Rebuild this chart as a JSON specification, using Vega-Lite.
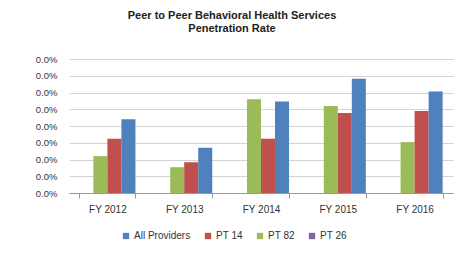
{
  "$schema": "https://vega.github.io/schema/vega-lite/v6.json",
  "autosize": {"type": "none"},
  "padding": {"left": 69, "top": 59, "right": 7, "bottom": 61},
  "width": 384,
  "height": 134,
  "background": "white",
  "title": {
    "text": ["Peer to Peer Behavioral Health Services", "Penetration Rate"],
    "anchor": "middle",
    "frame": "group",
    "dx": -29,
    "offset": 20,
    "fontSize": 11,
    "fontWeight": "bold",
    "font": "Liberation Sans",
    "color": "#222222",
    "lineHeight": 13
  },
  "data": {
    "values": [
      {"year": "FY 2012", "series": "PT 26", "rate": 0},
      {"year": "FY 2012", "series": "PT 82", "rate": 0.000022},
      {"year": "FY 2012", "series": "PT 14", "rate": 0.0000324},
      {"year": "FY 2012", "series": "All Providers", "rate": 0.000044},
      {"year": "FY 2013", "series": "PT 26", "rate": 0},
      {"year": "FY 2013", "series": "PT 82", "rate": 0.0000154},
      {"year": "FY 2013", "series": "PT 14", "rate": 0.0000184},
      {"year": "FY 2013", "series": "All Providers", "rate": 0.000027},
      {"year": "FY 2014", "series": "PT 26", "rate": 0},
      {"year": "FY 2014", "series": "PT 82", "rate": 0.000056},
      {"year": "FY 2014", "series": "PT 14", "rate": 0.0000324},
      {"year": "FY 2014", "series": "All Providers", "rate": 0.0000546},
      {"year": "FY 2015", "series": "PT 26", "rate": 0},
      {"year": "FY 2015", "series": "PT 82", "rate": 0.000052},
      {"year": "FY 2015", "series": "PT 14", "rate": 0.0000478},
      {"year": "FY 2015", "series": "All Providers", "rate": 0.0000682},
      {"year": "FY 2016", "series": "PT 26", "rate": 0},
      {"year": "FY 2016", "series": "PT 82", "rate": 0.0000304},
      {"year": "FY 2016", "series": "PT 14", "rate": 0.000049},
      {"year": "FY 2016", "series": "All Providers", "rate": 0.0000606}
    ]
  },
  "mark": {"type": "bar"},
  "encoding": {
    "x": {
      "field": "year",
      "type": "nominal",
      "sort": null,
      "scale": {"paddingInner": 0.27, "paddingOuter": 0.135},
      "axis": {
        "title": null,
        "labelAngle": 0,
        "tickBand": "extent",
        "tickSize": 5,
        "tickColor": "#999999",
        "domainColor": "#999999",
        "labelFont": "Liberation Sans",
        "labelFontSize": 10,
        "labelColor": "#333333",
        "labelPadding": 6
      }
    },
    "xOffset": {
      "field": "series",
      "type": "nominal",
      "sort": ["PT 26", "PT 82", "PT 14", "All Providers"],
      "scale": {"paddingInner": 0, "paddingOuter": 0}
    },
    "y": {
      "field": "rate",
      "type": "quantitative",
      "scale": {"domain": [0, 0.00008], "nice": false},
      "axis": {
        "title": null,
        "values": [0, 0.00001, 0.00002, 0.00003, 0.00004, 0.00005, 0.00006, 0.00007, 0.00008],
        "format": ".1%",
        "domain": false,
        "ticks": false,
        "gridColor": "#d4d4d4",
        "labelFont": "Liberation Sans",
        "labelFontSize": 9.5,
        "labelColor": "#333333",
        "labelPadding": 12
      }
    },
    "color": {
      "field": "series",
      "type": "nominal",
      "scale": {
        "domain": ["All Providers", "PT 14", "PT 82", "PT 26"],
        "range": ["#4F81BD", "#C0504D", "#9BBB59", "#8064A2"]
      },
      "legend": {
        "title": null,
        "orient": "none",
        "direction": "horizontal",
        "legendX": 52,
        "legendY": 172,
        "symbolType": "square",
        "symbolSize": 40,
        "labelFont": "Liberation Sans",
        "labelFontSize": 10,
        "labelColor": "#333333",
        "columnPadding": 12,
        "labelOffset": 3
      }
    }
  },
  "config": {
    "view": {"stroke": null}
  }
}
